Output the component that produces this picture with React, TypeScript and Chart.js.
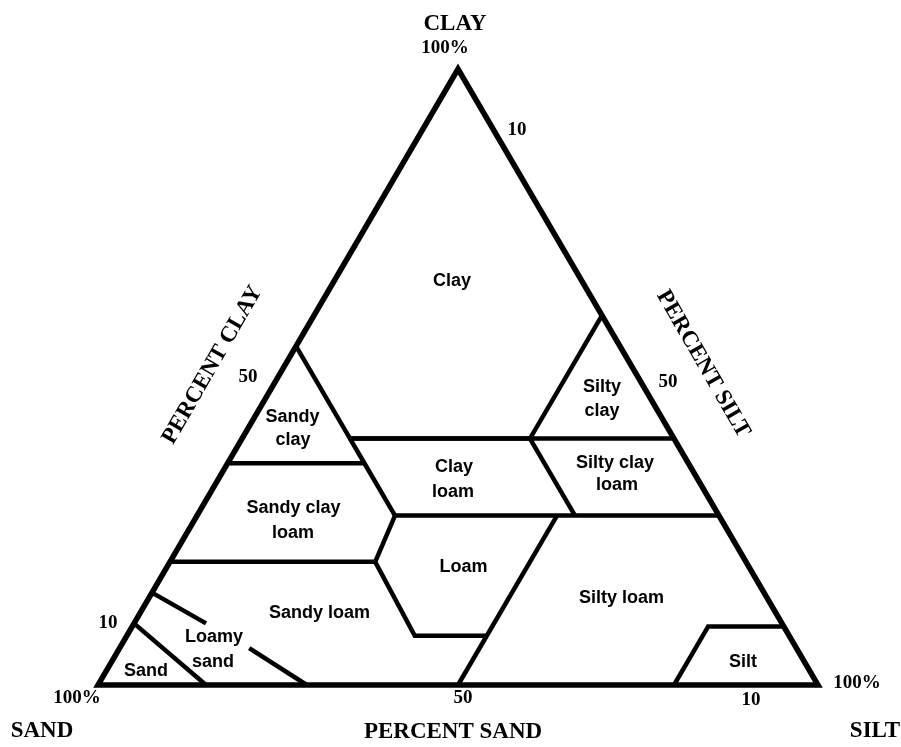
import React, { useEffect, useRef } from 'react';
import { Chart, registerables } from 'chart.js';

Chart.register(...registerables);

// Ternary points as [sand %, silt %, clay %]
type Tern = [number, number, number];

const outline: Tern[] = [[100, 0, 0], [0, 100, 0], [0, 0, 100], [100, 0, 0], [0, 100, 0]];
const clayBoundary: Tern[] = [[45, 0, 55], [45, 15, 40], [20, 40, 40], [0, 40, 60]];
const clay40Line: Tern[] = [[45, 15, 40], [0, 60, 40]];
const sand45Line: Tern[] = [[45, 15, 40], [45, 19, 36], [45, 27.5, 27.5]];
const sandyClayBase: Tern[] = [[64, 0, 36], [45, 19, 36]];
const clay27Line: Tern[] = [[45, 27.5, 27.5], [0, 72.5, 27.5]];
const sand20Line: Tern[] = [[20, 40, 40], [20, 52.5, 27.5]];
const loamLeftAndBase: Tern[] = [[45, 27.5, 27.5], [51.5, 28.5, 20], [52, 40, 8], [42, 50, 8]];
const silt50Line: Tern[] = [[22.5, 50, 27.5], [50, 50, 0]];
const sandyLoamTop: Tern[] = [[80, 0, 20], [51.5, 28.5, 20]];
const loamySandUpper: Tern[] = [[85, 0, 15], [80, 10, 10]];
const loamySandLower: Tern[] = [[76, 18, 6], [71, 29, 0]];
const sandLine: Tern[] = [[90, 0, 10], [85, 15, 0]];
const siltOutline: Tern[] = [[20, 80, 0], [10.5, 80, 9.5], [0, 90.5, 9.5]];

const innerLines: Tern[][] = [
  clayBoundary, clay40Line, sand45Line, sandyClayBase, clay27Line, sand20Line,
  loamLeftAndBase, silt50Line, sandyLoamTop, loamySandUpper, loamySandLower,
  sandLine, siltOutline,
];

// Texts, anchored in chart units: x = silt + clay/2, y = clay
const regionTexts: string[] = [
  'Clay', 'Sandy', 'clay', 'Silty', 'clay', 'Clay', 'loam', 'Silty clay', 'loam',
  'Sandy clay', 'loam', 'Loam', 'Silty loam', 'Sandy loam', 'Loamy', 'sand', 'Sand', 'Silt',
];
const regionAnchors: [number, number][] = [
  [49.17, 64.77], [27.01, 42.69], [27.08, 38.96], [70.0, 47.56], [70.0, 43.67],
  [49.44, 34.58], [49.31, 30.52], [71.81, 35.23], [72.08, 31.66],
  [27.15, 27.97], [27.08, 23.86], [50.76, 18.39], [72.71, 13.36], [30.76, 10.83],
  [16.11, 6.98], [15.97, 2.92], [6.67, 1.38], [89.58, 2.92],
];

const tickTexts: string[] = ['100%', '10', '50', '50', '10', '100%', '50', '10', '100%'];
const tickAnchors: [number, number][] = [
  [48.19, 102.6], [58.19, 89.29], [20.83, 49.19], [79.17, 48.38], [1.39, 9.25],
  [-2.92, -2.92], [50.69, -2.92], [90.69, -3.25], [105.42, -0.49],
];

const titleTexts: string[] = ['CLAY', 'SAND', 'PERCENT SAND', 'SILT'];
const titleAnchors: [number, number][] = [
  [49.58, 106.33], [-7.78, -8.44], [49.31, -8.6], [107.92, -8.44],
];

const sideTitleTexts: string[] = ['PERCENT CLAY', 'PERCENT SILT'];
const sideTitleAnchors: [number, number][] = [[15.9, 51.95], [84.03, 52.11]];
const sideTitleAngles: number[] = [-60, 60];

const toXY = (t: Tern) => ({ x: t[1] + t[2] / 2, y: t[2] });

const textPlugin = {
  id: 'triangleTexts',
  afterDatasetsDraw(chart: any) {
    const { ctx, scales } = chart;
    const xs = scales.x;
    const ys = scales.y;
    const px = (a: [number, number]) => [xs.getPixelForValue(a[0]), ys.getPixelForValue(a[1])];
    ctx.save();
    ctx.fillStyle = '#000';
    ctx.textAlign = 'center';
    ctx.textBaseline = 'alphabetic';

    ctx.font = 'bold 18px "Liberation Sans", Arial, sans-serif';
    regionTexts.forEach((t, i) => {
      const [x, y] = px(regionAnchors[i]);
      ctx.fillText(t, x, y);
    });

    ctx.font = 'bold 19px "Liberation Serif", "Times New Roman", serif';
    tickTexts.forEach((t, i) => {
      const [x, y] = px(tickAnchors[i]);
      ctx.fillText(t, x, y);
    });

    ctx.font = 'bold 23px "Liberation Serif", "Times New Roman", serif';
    titleTexts.forEach((t, i) => {
      const [x, y] = px(titleAnchors[i]);
      ctx.fillText(t, x, y);
    });

    ctx.textBaseline = 'middle';
    sideTitleTexts.forEach((t, i) => {
      const [x, y] = px(sideTitleAnchors[i]);
      ctx.save();
      ctx.translate(x, y);
      ctx.rotate((sideTitleAngles[i] * Math.PI) / 180);
      ctx.fillText(t, 0, 0);
      ctx.restore();
    });
    ctx.restore();
  },
};

export default function App() {
  const ref = useRef<HTMLCanvasElement | null>(null);

  useEffect(() => {
    if (!ref.current) return;
    const lineDs = (pts: Tern[], width: number) => ({
      data: pts.map(toXY),
      showLine: true,
      fill: false,
      borderColor: '#000',
      backgroundColor: '#000',
      borderWidth: width,
      pointRadius: 0,
      pointHoverRadius: 0,
      tension: 0,
      borderJoinStyle: 'miter' as const,
      borderCapStyle: 'butt' as const,
      clip: false as const,
    });
    const chart = new Chart(ref.current, {
      type: 'scatter',
      data: {
        datasets: [lineDs(outline, 5.5), ...innerLines.map((l) => lineDs(l, 4.5))],
      },
      options: {
        responsive: false,
        animation: false,
        devicePixelRatio: 1,
        layout: { padding: { left: 98, right: 83, top: 69, bottom: 62 } },
        plugins: { legend: { display: false }, tooltip: { enabled: false } },
        events: [],
        scales: {
          x: { type: 'linear', min: 0, max: 100, display: false },
          y: { type: 'linear', min: 0, max: 100, display: false },
        },
      },
      plugins: [textPlugin],
    });
    return () => chart.destroy();
  }, []);

  return (
    <div style={{ position: 'absolute', left: 0, top: 0, width: 901, height: 747, background: '#fff' }}>
      <canvas ref={ref} width={901} height={747} style={{ display: 'block' }} />
    </div>
  );
}
